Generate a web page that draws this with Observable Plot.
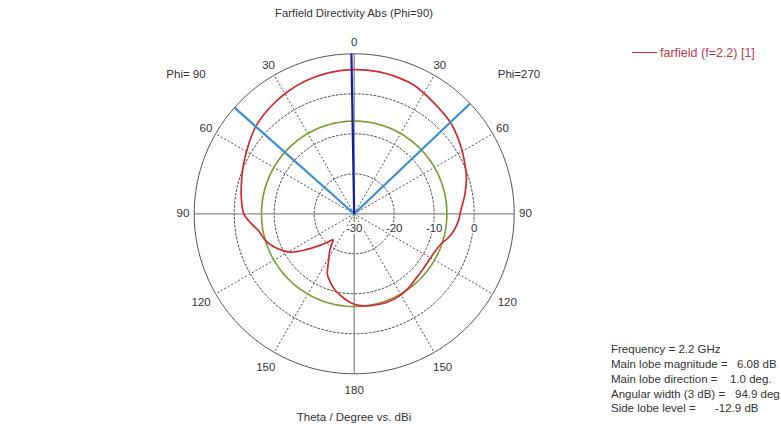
<!DOCTYPE html>
<html><head><meta charset="utf-8">
<script src="https://cdn.jsdelivr.net/npm/d3@7"></script>
<script src="https://cdn.jsdelivr.net/npm/@observablehq/plot@0.6"></script>
<style>
body{margin:0;background:#fff;overflow:hidden;}
#wrap{position:relative;width:781px;height:430px;overflow:hidden;font-family:"Liberation Sans",Arial,sans-serif;color:#333;background:#fff;}
#wrap svg{position:absolute;left:0;top:0;}
.ov{position:absolute;white-space:pre;line-height:14px;font-size:11.5px;}
</style></head><body><div id="wrap"></div>
<script>
// ---- data ----
const title = "Farfield Directivity Abs (Phi=90)";
const xAxisTitle = "Theta / Degree vs. dBi";
const legendLabel = "farfield (f=2.2) [1]";
const phiLeftLabel = "Phi= 90";
const phiRightLabel = "Phi=270";

// Phi = 90 half (drawn on the left), theta in degrees, directivity in dBi
const thetaLeft = [0, 10, 20, 29, 38, 48, 56, 66, 75, 83, 90, 95, 100, 107, 114, 121, 127, 133, 137, 141, 144, 147, 151, 156, 161, 166, 171, 176, 180];
const dbLeft    = [6.05, 5.85, 5.4, 4.75, 3.95, 2.95, 1.7, 0.3, -0.8, -1.6, -2.4, -4.0, -5.7, -6.9, -8.8, -11.4, -15.2, -18.5, -20.3, -21.6, -20.2, -18.7, -16.9, -13.5, -11.8, -10.3, -9.2, -8.1, -7.4];
// Phi = 270 half (drawn on the right)
const thetaRight = [10, 19, 25, 36, 47, 58, 66, 72, 80, 88, 94, 100, 105, 109, 116, 122, 130, 137, 143, 150, 160, 170, 176];
const dbRight    = [6.02, 5.75, 5.45, 4.1, 3.1, 1.5, 0.3, -0.5, -1.9, -3.3, -3.9, -4.8, -5.9, -7.0, -7.8, -8.0, -7.9, -7.6, -7.1, -6.6, -6.4, -6.7, -7.0];

const rMin = -30, rMax = 10;
const ringLevels = [-20, -10, 0];
const angleTicks = [0, 30, 60, 90, 120, 150, 180];
const spokeAngles = [30, 60, 120, 150];
const radialLabels = [-30, -20, -10, 0];

const mainLobeMag = 6.08, mainLobeDir = 1.0, angularWidth = 94.9, sideLobeLevel = -12.9;
const infoLabels = ["Frequency = 2.2 GHz", "Main lobe magnitude =", "Main lobe direction =", "Angular width (3 dB) =", "Side lobe level ="];
const infoValues = ["", "6.08 dB", "1.0 deg.", "94.9 deg", "-12.9 dB"];

// ---- geometry helpers (phi > 0 : Phi=90 side, left) ----
const rad = Math.PI / 180;
const P = (phi, db) => ({x: -(db - rMin) * Math.sin(phi * rad), y: (db - rMin) * Math.cos(phi * rad)});
const PU = (phi, u) => ({x: -u * Math.sin(phi * rad), y: u * Math.cos(phi * rad)});
const ring = (db) => d3.range(0, 360, 2).map(a => ({...P(a, db), level: db}));
const spoke = (phi, db0, db1) => { const a = P(phi, db0), b = P(phi, db1); return {x1: a.x, y1: a.y, x2: b.x, y2: b.y}; };

const redPts = [
  ...thetaLeft.map((t, i) => P(t, dbLeft[i])),
  ...thetaRight.map((t, i) => P(-t, dbRight[i])).reverse()
];
const spokes = spokeAngles.flatMap(a => [a, -a]).map(phi => spoke(phi, rMin, rMax));
const axesLines = [0, 90, -90, 180].map(phi => spoke(phi, rMin, rMax));
const beamEdges = [mainLobeDir + angularWidth / 2, mainLobeDir - angularWidth / 2].map(phi => spoke(phi, rMin, rMax));
const mainDir = [spoke(mainLobeDir, rMin, rMax)];

const angleLabelData = angleTicks.flatMap(a => (a === 0 || a === 180) ? [a] : [a, -a]).map(phi => {
  const u = Math.abs(phi) <= 90 ? 42.8 : 44.2;
  return {...PU(phi, u), text: String(Math.abs(phi))};
});
const radialLabelData = radialLabels.map(v => ({...P(-90, v), text: String(v)}));

const W = 781, H = 430;
const cx = 353.7, cy = 213.3, R = 160;

const chart = Plot.plot({
  width: W, height: H,
  marginLeft: cx - R, marginRight: W - (cx + R),
  marginTop: cy - R, marginBottom: H - (cy + R),
  x: {domain: [-(rMax - rMin), rMax - rMin], axis: null},
  y: {domain: [-(rMax - rMin), rMax - rMin], axis: null},
  style: {fontFamily: '"Liberation Sans", Arial, sans-serif', fontSize: "11.5px", background: "transparent", overflow: "visible"},
  marks: [
    Plot.line(ringLevels.flatMap(ring), {x: "x", y: "y", z: "level", curve: "linear-closed", stroke: "#222", strokeWidth: 0.8, strokeDasharray: "2,2"}),
    Plot.link(spokes, {x1: "x1", y1: "y1", x2: "x2", y2: "y2", stroke: "#222", strokeWidth: 0.8, strokeDasharray: "2,2"}),
    Plot.link(axesLines, {x1: "x1", y1: "y1", x2: "x2", y2: "y2", stroke: "#8a8a8a", strokeWidth: 1.3}),
    Plot.line(ring(rMax), {x: "x", y: "y", curve: "linear-closed", stroke: "#555", strokeWidth: 1}),
    Plot.line(ring(mainLobeMag + sideLobeLevel), {x: "x", y: "y", curve: "linear-closed", stroke: "#7b9a30", strokeWidth: 1.6}),
    Plot.line(redPts, {x: "x", y: "y", curve: "catmull-rom-closed", stroke: "#d22a2e", strokeWidth: 1.7}),
    Plot.link(beamEdges, {x1: "x1", y1: "y1", x2: "x2", y2: "y2", stroke: "#3a8ed6", strokeWidth: 2.2}),
    Plot.link(mainDir, {x1: "x1", y1: "y1", x2: "x2", y2: "y2", stroke: "#1a1aa6", strokeWidth: 2.2}),
    Plot.text(angleLabelData, {x: "x", y: "y", text: "text", fill: "#333", fontSize: 11.5}),
    Plot.text(radialLabelData, {x: "x", y: "y", text: "text", dy: 15, fill: "#333", fontSize: 11.5, stroke: "white", strokeWidth: 4})
  ]
});

const wrap = document.getElementById("wrap");
wrap.appendChild(chart);

function ov(text, left, cyText, opts = {}) {
  const d = document.createElement("div");
  d.className = "ov";
  d.textContent = text;
  d.style.left = left + "px";
  d.style.top = (cyText - 7) + "px";
  if (opts.color) d.style.color = opts.color;
  if (opts.size) d.style.fontSize = opts.size + "px";
  if (opts.center) { d.style.transform = "translateX(-50%)"; }
  wrap.appendChild(d);
  return d;
}
ov(title, 354, 13, {center: true, size: 11.3});
ov(xAxisTitle, 354, 417, {center: true});
ov(phiLeftLabel, 186, 74, {center: true});
ov(phiRightLabel, 519, 74, {center: true});

// legend
const lg = document.createElement("div");
lg.style.cssText = "position:absolute;left:632px;top:52px;width:25px;height:0;border-top:1.6px solid #c23240;";
wrap.appendChild(lg);
ov(legendLabel, 660, 53, {color: "#bf3a4c", size: 12.5});

// info block
const infoY = [349, 364, 379, 394, 408];
const infoX = [null, 737, 730, 735, 715];
infoLabels.forEach((t, i) => ov(t, 611, infoY[i]));
infoValues.forEach((t, i) => { if (t) ov(t, infoX[i], infoY[i]); });
</script></body></html>
